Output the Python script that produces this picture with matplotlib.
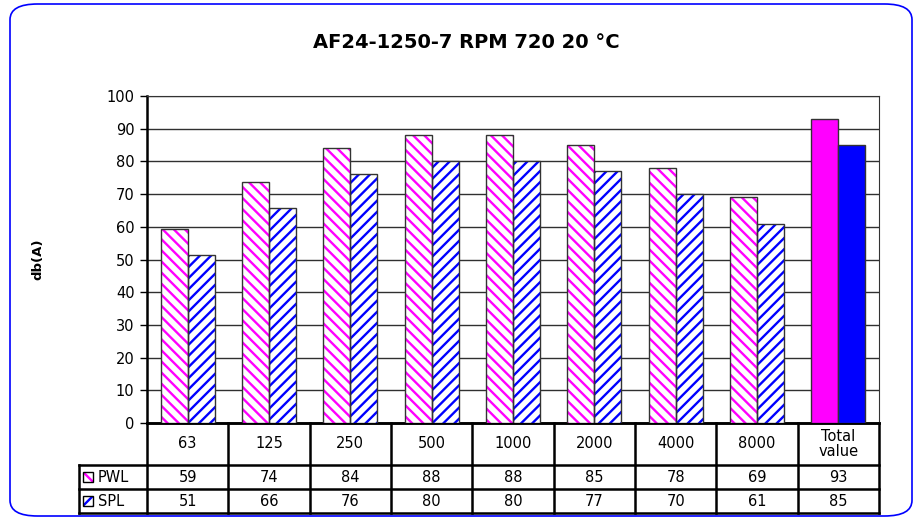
import matplotlib
matplotlib.use("Agg")
import matplotlib.pyplot as plt
from matplotlib.patches import FancyBboxPatch, Rectangle
import matplotlib.transforms as mtransforms

plt.rcParams["font.family"] = ["DejaVu Sans"]
plt.rcParams["hatch.linewidth"] = 1.7

# data
categories = ["63", "125", "250", "500", "1000", "2000", "4000", "8000", "Total\nvalue"]
pwl = [59.4, 73.8, 84, 88, 88, 85, 78, 69, 93]
spl = [51.4, 65.8, 76, 80, 80, 77, 70, 61, 85]
series_names = ["PWL", "SPL"]
series_colors = ["#ff00ff", "#0000ff"]
hatches = ["\\\\\\", "///"]

W, H = 919, 521
fig = plt.figure(figsize=(W / 100, H / 100), dpi=100)

# rounded frame
frame = FancyBboxPatch((10 / W, 5 / H), 902 / W, 512 / H,
                       boxstyle="round,pad=0,rounding_size=0.03",
                       transform=fig.transFigure, fill=False,
                       edgecolor="#0000ff", linewidth=1.2)
fig.patches.append(frame)

x0, x1, ytop, ybot = 147, 879, 96, 423
ax = fig.add_axes([x0 / W, (H - ybot) / H, (x1 - x0) / W, (ybot - ytop) / H])

n = len(categories)
idx = list(range(n))
bw = 0.33
for k, (vals, col, hat) in enumerate(zip([pwl, spl], series_colors, hatches)):
    xs = [i + (k - 0.5) * bw for i in idx]
    # hatched frequency bands
    ax.bar(xs[:-1], vals[:-1], width=bw, color="white", edgecolor=col,
           hatch=hat, linewidth=0, zorder=3)
    ax.bar(xs[:-1], vals[:-1], width=bw, fill=False, edgecolor="#333333",
           linewidth=1, zorder=4)
    # total value solid
    ax.bar(xs[-1:], vals[-1:], width=bw, color=col, edgecolor="#333333",
           linewidth=1, zorder=4)

ax.set_xlim(-0.5, n - 0.5)
ax.set_ylim(0, 100)
ax.set_yticks(range(0, 101, 10))
ax.set_xticks([])
ax.yaxis.grid(True, color="#303030", linewidth=1)
ax.set_axisbelow(True)
ax.tick_params(axis="y", length=5, width=1, labelsize=10.5, pad=4)
for s in ["top", "right"]:
    ax.spines[s].set_linewidth(0.8)
    ax.spines[s].set_color("#333333")
ax.spines["left"].set_linewidth(1.8)
ax.spines["bottom"].set_linewidth(1.8)

fig.text(38 / W, 1 - 259 / H, "db(A)", rotation=90, ha="center", va="center",
         fontsize=9.5, fontweight="bold")
fig.text(466 / W, 1 - 42 / H, "AF24-1250-7 RPM 720 20 °C",
         ha="center", va="center", fontsize=14, fontweight="bold")

# data table under the axis
tr = mtransforms.blended_transform_factory(ax.transData, ax.transAxes)
ph = ybot - ytop
rows = [0, -(465 - ybot) / ph, -(489 - ybot) / ph, -(513 - ybot) / ph]
leg_left = (79 - x0) / ((x1 - x0) / n) - 0.5
lw = 1.8
kw = dict(color="black", linewidth=lw, transform=tr, clip_on=False,
          solid_capstyle="projecting")
ax.plot([-0.5, n - 0.5], [rows[0], rows[0]], **kw)
for r in rows[1:]:
    ax.plot([leg_left, n - 0.5], [r, r], **kw)
for i in range(n + 1):
    ax.plot([i - 0.5, i - 0.5], [rows[0], rows[3]], **kw)
ax.plot([leg_left, leg_left], [rows[1], rows[3]], **kw)

for i, c in enumerate(categories):
    ax.text(i, (rows[0] + rows[1]) / 2, c, transform=tr, ha="center",
            va="center", fontsize=10.5, linespacing=1.0)
for r, (name, vals, col, hat) in enumerate(zip(series_names, [pwl, spl],
                                              series_colors, hatches)):
    yc = (rows[r + 1] + rows[r + 2]) / 2
    for i, v in enumerate(vals):
        ax.text(i, yc, f"{v:.0f}", transform=tr, ha="center", va="center",
                fontsize=10.5)
    # legend key
    kx, ky = 83 / W, (H - (ybot + 42 + 24 * r + 12)) / H
    sq = 10
    fig.patches.append(Rectangle((kx, ky - sq / 2 / H), sq / W, sq / H,
                                 transform=fig.transFigure, facecolor="white",
                                 edgecolor=col, hatch=hat, linewidth=0))
    fig.patches.append(Rectangle((kx, ky - sq / 2 / H), sq / W, sq / H,
                                 transform=fig.transFigure, fill=False,
                                 edgecolor="black", linewidth=1))
    fig.text(98 / W, ky, name, ha="left", va="center", fontsize=10.5)

fig.savefig("out.png", dpi=100)
